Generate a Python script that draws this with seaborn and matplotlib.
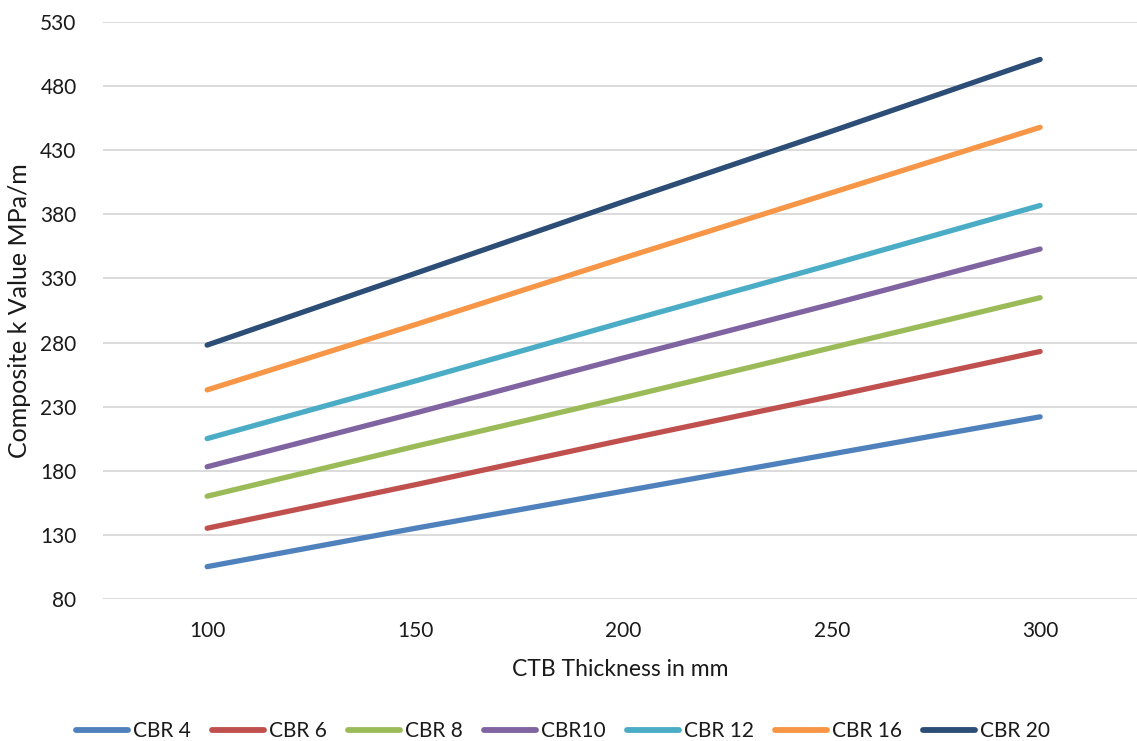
import matplotlib
matplotlib.use("Agg")
import matplotlib.pyplot as plt
import seaborn as sns
import pandas as pd

# CTB thickness (mm) and composite k value (MPa/m) for each subgrade CBR
thickness = [100, 150, 200, 250, 300]
cbr_4 = [105, 135, 164, 193, 222]
cbr_6 = [135, 169, 204, 238, 273]
cbr_8 = [160, 199, 237, 276, 315]
cbr_10 = [183, 225, 268, 310, 353]
cbr_12 = [205, 250, 296, 341, 387]
cbr_16 = [243, 294, 346, 397, 448]
cbr_20 = [278, 334, 390, 445, 501]

series_names = ["CBR 4", "CBR 6", "CBR 8", "CBR10", "CBR 12", "CBR 16", "CBR 20"]
series_values = [cbr_4, cbr_6, cbr_8, cbr_10, cbr_12, cbr_16, cbr_20]
colors = ["#4F81BD", "#C0504D", "#9BBB59", "#8064A2", "#4BACC6", "#F79646", "#2C4D75"]

y_ticks = [80, 130, 180, 230, 280, 330, 380, 430, 480, 530]

rows = []
for name, vals in zip(series_names, series_values):
    for t, v in zip(thickness, vals):
        rows.append({"thickness": t, "k": v, "series": name})
df = pd.DataFrame(rows)

sns.set_theme(style="white")
plt.rcParams["font.family"] = ["Lato", "DejaVu Sans"]

W, H = 1137, 741
ax_left, ax_bottom_px, ax_top_px = 103, 598.7, 22.3
fig = plt.figure(figsize=(W / 100, H / 100), dpi=100)
ax = fig.add_axes([ax_left / W, 1 - ax_bottom_px / H, (W - ax_left) / W,
                   (ax_bottom_px - ax_top_px) / H])

sns.lineplot(data=df, x="thickness", y="k", hue="series", hue_order=series_names,
             palette=colors, linewidth=3.8, ax=ax, legend=False,
             solid_capstyle="round")

ax.set_xlim(75, 75 + (W - ax_left) / 4.165)
ax.set_ylim(80, 530)
ax.set_xticks(thickness)
ax.set_yticks(y_ticks)
ax.tick_params(axis="both", length=0, labelsize=15, colors="#1a1a1a")
ax.tick_params(axis="y", pad=19)
ax.tick_params(axis="x", pad=16)
ax.grid(axis="y", color="#D9D9D9", linewidth=1.3)
ax.grid(axis="x", visible=False)
for s in ax.spines.values():
    s.set_visible(False)

ax.set_xlabel("CTB Thickness in mm", fontsize=16.5, color="#1a1a1a", labelpad=13)
ax.set_ylabel("Composite k Value MPa/m", fontsize=18, color="#1a1a1a")
ax.yaxis.set_label_coords((31 - ax_left) / (W - ax_left), 0.5)

handles = [plt.Line2D([], [], color=c, linewidth=4.2, solid_capstyle="round")
           for c in colors]
fig.legend(handles, series_names, loc="center", ncol=7,
           bbox_to_anchor=(563 / W, 1 - 731 / H), frameon=False,
           fontsize=15, handlelength=2.5, handletextpad=0.25, columnspacing=1.0,
           labelcolor="#1a1a1a")

fig.savefig("out.png", dpi=100)
